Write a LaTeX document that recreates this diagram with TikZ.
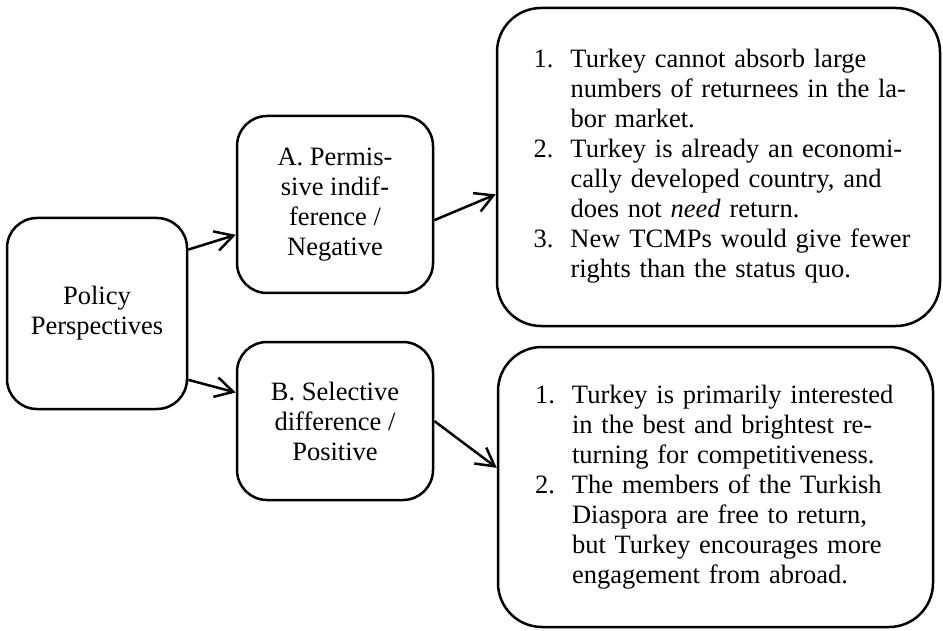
\documentclass[tikz,border=0pt]{standalone}
\usepackage{fontspec}
\setmainfont{Liberation Serif}
\usetikzlibrary{
    arrows.meta,    % For the open arrow tips
    positioning
}

\begin{document}
\begin{tikzpicture}[
    x=1pt, y=-1pt,
    every node/.style={font=\fontsize{26.5}{30}\selectfont},
    box/.style={rectangle, draw, line width=2.5pt, rounded corners=30pt, align=center, inner sep=0pt},
    listbox/.style={rectangle, draw, line width=2.5pt, rounded corners=44pt, align=left, inner ysep=0pt},
    arrow/.style={-{Straight Barb[length=18pt, width=20pt]}, line width=2.5pt}
]
    \useasboundingbox (0,0) rectangle (943,631);

    % Root
    \node[box, minimum width=180pt, minimum height=191pt] (policy) at (97,313.5) {Policy\\Perspectives};

    % Two perspectives
    \node[box, minimum width=196pt, minimum height=177pt] (permissive) at (335,204.5) {A. Permis-\\sive indif-\\ference /\\Negative};
    \node[box, minimum width=196pt, minimum height=158pt] (selective) at (335,421) {B. Selective\\difference /\\Positive};

    % Arguments for each perspective
    \node[listbox, minimum width=443pt, minimum height=318pt, inner xsep=36.5pt, text width=370pt] (negative) at (718.5,167) {%
    \begin{tabular}{@{}p{37pt}@{}l@{}}
      1. & Turkey cannot absorb large\\
         & numbers of returnees in the la-\\
         & bor market.\\
      2. & Turkey is already an economi-\\
         & cally developed country, and\\
         & does not \emph{need} return.\\
      3. & New TCMPs would give fewer\\
         & rights than the status quo.
    \end{tabular}};
    \node[listbox, minimum width=435pt, minimum height=280pt, inner xsep=37pt, text width=361pt] (positive) at (715.5,487) {%
    \begin{tabular}{@{}p{37pt}@{}l@{}}
      1. & Turkey is primarily interested\\
         & in the best and brightest re-\\
         & turning for competitiveness.\\
      2. & The members of the Turkish\\
         & Diaspora are free to return,\\
         & but Turkey encourages more\\
         & engagement from abroad.
    \end{tabular}};

    % Connectors
    \draw[arrow] (policy.35) -- (permissive.197);
    \draw[arrow] (policy.-36) -- (selective.164);
    \draw[arrow] (permissive.-9) -- (negative.187);
    \draw[arrow] (selective.east) -- (positive.175);
\end{tikzpicture}
\end{document}
